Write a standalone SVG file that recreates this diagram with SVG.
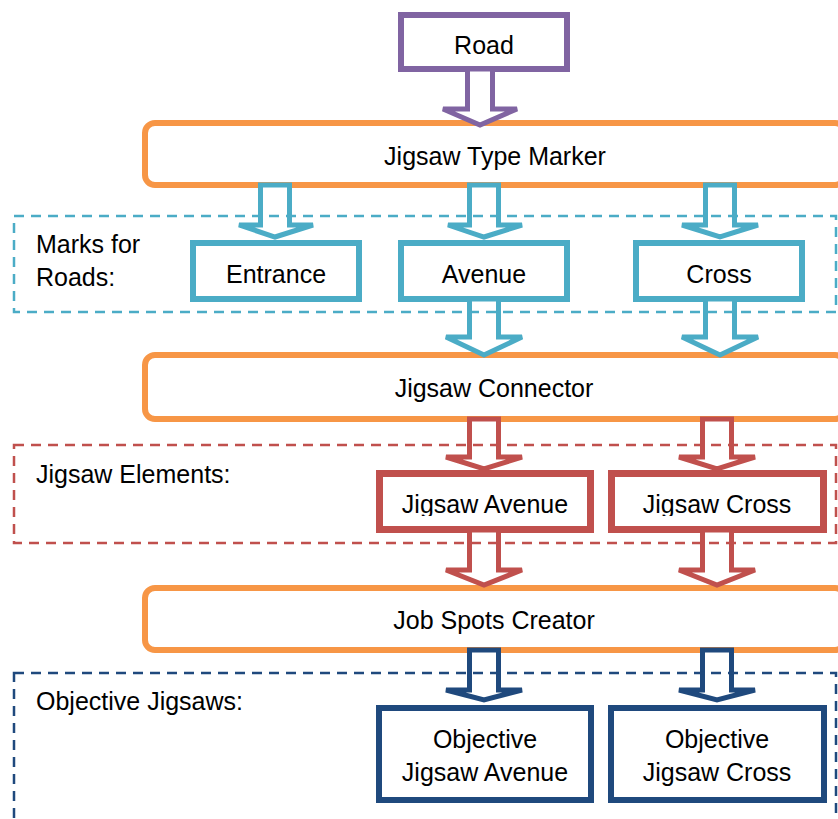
<svg xmlns="http://www.w3.org/2000/svg" width="838" height="819" viewBox="0 0 838 819">
<style>
text{font-family:"Liberation Sans",Arial,sans-serif;font-size:25px;fill:#000}
.c{text-anchor:middle}
.stage{fill:#fff;stroke:#f79646;stroke-width:6}
.grp{fill:none;stroke-width:2.5;stroke-dasharray:10 7}
.arr{fill:#fff;stroke-width:5;stroke-linejoin:miter}
.blue{stroke:#4bacc6}.red{stroke:#c0504d}.navy{stroke:#1f497d}.purple{stroke:#8064a2}
.box{fill:#fff;stroke-width:6}
</style>
<defs>
<clipPath id="clipJ"><rect x="370" y="470" width="460" height="46"/></clipPath>
</defs>

<g id="stage-marker"><rect class="stage" x="145" y="123" width="700" height="62" rx="10"/><text class="c" x="495" y="165">Jigsaw Type Marker</text></g>
<g id="stage-connector"><rect class="stage" x="145" y="355" width="700" height="64" rx="10"/><text class="c" x="494" y="397">Jigsaw Connector</text></g>
<g id="stage-creator"><rect class="stage" x="145" y="588" width="700" height="62" rx="10"/><text class="c" x="494" y="629">Job Spots Creator</text></g>

<g id="road"><rect class="box purple" x="401" y="15" width="166" height="54"/><text class="c" x="484" y="54">Road</text></g>

<g id="entrance"><rect class="box blue" x="193" y="243" width="166" height="56"/><text class="c" x="276" y="283">Entrance</text></g>
<g id="avenue"><rect class="box blue" x="401" y="243" width="166" height="56"/><text class="c" x="484" y="283">Avenue</text></g>
<g id="cross"><rect class="box blue" x="636" y="243" width="166" height="56"/><text class="c" x="719" y="283">Cross</text></g>

<g id="jigsaw-avenue"><rect x="379.5" y="473.5" width="211" height="56" fill="#fff"/><text class="c" x="485" y="513" clip-path="url(#clipJ)">Jigsaw Avenue</text><rect class="red" x="379.5" y="473.5" width="211" height="56" fill="none" stroke-width="7"/></g>
<g id="jigsaw-cross"><rect x="611.5" y="473.5" width="212" height="56" fill="#fff"/><text class="c" x="717" y="513" clip-path="url(#clipJ)">Jigsaw Cross</text><rect class="red" x="611.5" y="473.5" width="212" height="56" fill="none" stroke-width="7"/></g>

<g id="objective-avenue"><rect class="box navy" x="379" y="708" width="212" height="92"/><text class="c" x="485" y="748">Objective</text><text class="c" x="485" y="781">Jigsaw Avenue</text></g>
<g id="objective-cross"><rect class="box navy" x="611" y="708" width="213" height="92"/><text class="c" x="717" y="748">Objective</text><text class="c" x="717" y="781">Jigsaw Cross</text></g>

<g id="connectors">
<path class="arr purple" d="M467.5 69 H492.5 V109 H517 L480 125 L443 109 H467.5 Z"/>
<path class="arr blue" d="M260.5 185 H289.5 V225 H313 L275 237 L239 225 H260.5 Z"/>
<path class="arr blue" d="M469.5 185 H498.5 V225 H522 L484 237 L448 225 H469.5 Z"/>
<path class="arr blue" d="M705.5 185 H734.5 V225 H758 L720 237 L682 225 H705.5 Z"/>
<path class="arr blue" d="M469.5 299 H498.5 V337 H522 L484 355 L446 337 H469.5 Z"/>
<path class="arr blue" d="M705.5 299 H734.5 V337 H758 L720 355 L682 337 H705.5 Z"/>
<path class="arr red" d="M469.5 419 H498.5 V457 H522 L484 469 L446 457 H469.5 Z"/>
<path class="arr red" d="M702.5 419 H731.5 V457 H755 L717 469 L679 457 H702.5 Z"/>
<path class="arr red" d="M469.5 530 H498.5 V570 H522 L484 585 L446 570 H469.5 Z"/>
<path class="arr red" d="M702.5 530 H731.5 V570 H755 L717 585 L679 570 H702.5 Z"/>
<path class="arr navy" d="M469.5 650 H498.5 V690 H522 L484 700 L446 690 H469.5 Z"/>
<path class="arr navy" d="M702.5 650 H731.5 V690 H755 L717 700 L679 690 H702.5 Z"/>
</g>

<g id="group-roads"><rect class="grp blue" x="14" y="216" width="822" height="96"/><text x="36" y="253">Marks for</text><text x="36" y="286">Roads:</text></g>
<g id="group-elements"><rect class="grp red" x="14" y="445" width="822" height="98"/><text x="36" y="483">Jigsaw Elements:</text></g>
<g id="group-objective"><rect class="grp navy" x="14" y="673" width="822" height="160"/><text x="36" y="710">Objective Jigsaws:</text></g>
</svg>
